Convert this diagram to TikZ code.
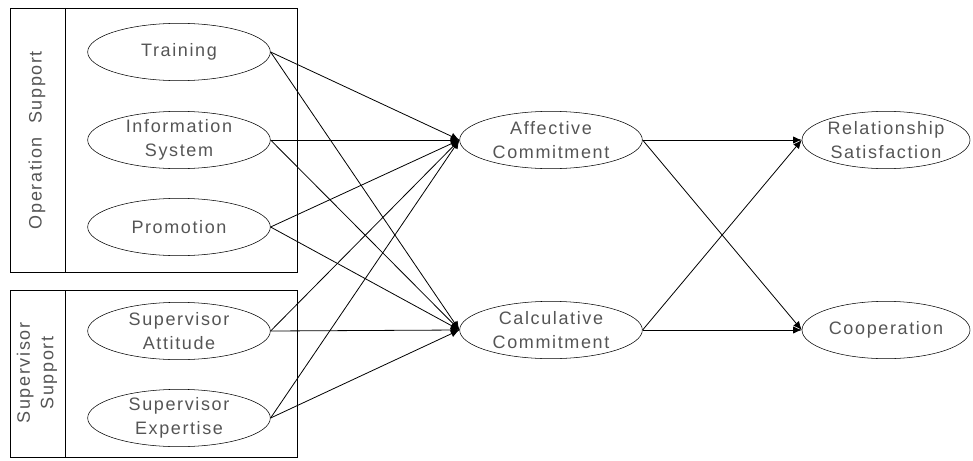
\documentclass[tikz,border=0pt]{standalone}
\usepackage{fontspec}
\setmainfont{Liberation Sans}[LetterSpace=9]
\usetikzlibrary{shapes.geometric,arrows.meta}
\definecolor{txtgray}{RGB}{85,85,85}
\tikzset{
    var/.style={draw, ellipse, inner sep=0pt, minimum width=137pt, minimum height=43pt,
        align=center, text=txtgray, font=\fontsize{13.5}{17.5}\selectfont},
    path/.style={-{Latex[length=6.5pt,width=5.5pt]}, semithick}
}
\begin{document}
\begin{tikzpicture}[x=0.75pt, y=-0.75pt]
    \useasboundingbox (0,0) rectangle (973,460);
    \draw (10,8) rectangle (297,272);
    \draw (65,8) -- (65,272);
    \draw (10,290) rectangle (297,457);
    \draw (65,290) -- (65,457);
    \node[rotate=90, text=txtgray, font=\fontsize{13.5}{17.5}\selectfont] (opsup) at (37,140) {Operation\ \ Support};
    \node[rotate=90, align=center, text=txtgray, font=\fontsize{13.5}{17.5}\selectfont] (supsup) at (37,373) {Supervisor\\Support};
    \node[var] (train) at (179,52) {Training};
    \node[var] (info) at (179,140) {Information\\System};
    \node[var] (promo) at (179,227) {Promotion};
    \node[var] (att) at (179,331) {Supervisor\\Attitude};
    \node[var] (exp) at (179,418) {Supervisor\\Expertise};
    \node[var] (aff) at (551,140) {Affective\\Commitment};
    \node[var] (calc) at (551,330) {Calculative\\Commitment};
    \node[var, minimum width=126pt] (rel) at (886,140) {Relationship\\Satisfaction};
    \node[var, minimum width=126pt] (coop) at (886,330) {Cooperation};
    \foreach \s in {train, info, promo, att, exp}
        \foreach \t in {aff, calc}
            \draw[path] (\s.east) -- (\t.west);
    \foreach \s in {aff, calc}
        \foreach \t in {rel, coop}
            \draw[path] (\s.east) -- (\t.west);
\end{tikzpicture}
\end{document}
